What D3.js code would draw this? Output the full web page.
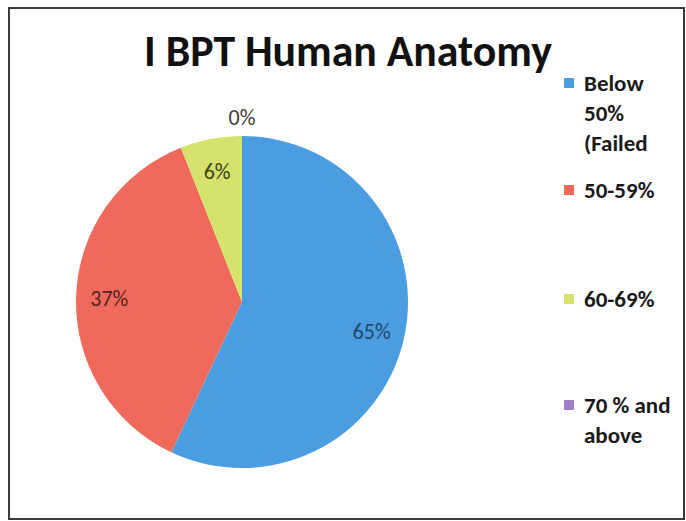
<!DOCTYPE html>
<html>
<head>
<meta charset="utf-8">
<script src="https://cdn.jsdelivr.net/npm/d3@7"></script>
<style>
  html, body { margin: 0; padding: 0; background: #fff; }
  svg { display: block; }
</style>
</head>
<body>
<svg id="chart" width="686" height="521"></svg>
<script>
// ---- data ----
const title = "I BPT Human Anatomy";
const categories = ["Below 50% (Failed", "50-59%", "60-69%", "70 % and above"];
const legendLines = [["Below", "50%", "(Failed"], ["50-59%"], ["60-69%"], ["70 % and", "above"]];
const values = [57, 37, 6, 0];            // slice sizes as drawn
const labels = ["65%", "37%", "6%", "0%"]; // data labels as printed
const colors = ["#4b9de1", "#f06a5c", "#d5e26c", "#9e80c6"];
const labelColors = ["#1d4a68", "#5a1f22", "#3e4416", "#404040"];

const font = "Carlito, Lato, 'Liberation Sans', sans-serif";
const svg = d3.select("#chart");

// border
svg.append("rect").attr("x", 9).attr("y", 8).attr("width", 675).attr("height", 511)
  .attr("fill", "#fff").attr("stroke", "#3a3a3a").attr("stroke-width", 2);

// title
const t = svg.append("text").attr("x", 348).attr("y", 66).attr("text-anchor", "middle")
  .attr("font-family", font).attr("font-weight", "bold").attr("fill", "#111")
  .attr("font-size", 38).text(title);
const tw = t.node().getComputedTextLength();
t.attr("font-size", 38 * 408 / tw);

// pie
const cx = 242, cy = 302, r = 166;
const pie = d3.pie().sort(null).value(d => d)(values);
const arc = d3.arc().innerRadius(0).outerRadius(r);
const g = svg.append("g").attr("transform", `translate(${cx},${cy})`);
g.selectAll("path").data(pie).join("path")
  .attr("d", arc).attr("fill", (d, i) => colors[i]);

const inArc = d3.arc().innerRadius(r * 0.8).outerRadius(r * 0.8);
const outArc = d3.arc().innerRadius(r * 1.11).outerRadius(r * 1.11);
g.selectAll("text.lbl").data(pie).join("text").attr("class", "lbl")
  .attr("transform", d => {
    const c = (d.value === 0 ? outArc : inArc).centroid(d);
    return `translate(${c[0]},${c[1]})`;
  })
  .attr("text-anchor", "middle").attr("dy", "0.35em")
  .attr("font-family", font).attr("font-size", 22)
  .attr("fill", (d, i) => labelColors[i])
  .text((d, i) => labels[i]);

// legend
const legendY = [91, 198, 307, 413];
const lg = svg.append("g");
categories.forEach((c, i) => {
  const e = lg.append("g");
  e.append("rect").attr("x", 564).attr("y", legendY[i] - 13).attr("width", 10).attr("height", 10)
    .attr("fill", colors[i]);
  legendLines[i].forEach((ln, j) => {
    e.append("text").attr("x", 584).attr("y", legendY[i] + j * 30)
      .attr("font-family", font).attr("font-weight", "bold").attr("font-size", 23)
      .attr("fill", "#1a1a1a").text(ln);
  });
});
</script>
</body>
</html>
